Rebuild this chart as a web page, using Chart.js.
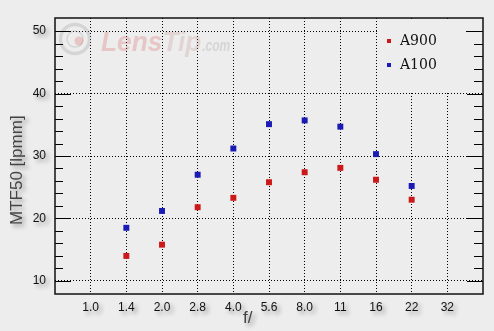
<!DOCTYPE html>
<html><head><meta charset="utf-8">
<script src="https://cdn.jsdelivr.net/npm/chart.js@4"></script>
<style>html,body{margin:0;padding:0;background:#ededed;overflow:hidden}</style>
</head><body>
<canvas id="c" width="494" height="331"></canvas>
<script>
const categories = ['1.0','1.4','2.0','2.8','4.0','5.6','8.0','11','16','22','32'];
const seriesNames = ['A900','A100'];
const a900 = [null,14.0,15.8,21.8,23.3,25.8,27.4,28.1,26.2,23.0,null];
const a100 = [null,18.5,21.2,27.0,31.2,35.1,35.7,34.7,30.3,25.2,null];
const yTicks = [10,20,30,40,50];
const yMinorTicks = [12,14,16,18,22,24,26,28,32,34,36,38,42,44,46,48];
const xTickValues = categories.map((c,i)=>i+1);

const BG = '#ededed';
const toPoints = arr => arr.map((v,i)=>({x:i+1,y:v})).filter(p=>p.y!==null);

function shadowWrap(scale){
  if(scale._shWrapped) return;
  scale._shWrapped = true;
  ['drawLabels','drawTitle'].forEach(fn=>{
    const orig = scale[fn];
    scale[fn] = function(){
      const ctx=this.ctx; ctx.save();
      ctx.shadowColor='rgba(0,0,0,0.38)'; ctx.shadowBlur=4; ctx.shadowOffsetX=3; ctx.shadowOffsetY=3;
      orig.apply(this, arguments);
      ctx.restore();
    };
  });
}

const decor = {
  id:'decor',
  beforeDraw(chart){
    const ctx=chart.ctx; ctx.save(); ctx.fillStyle=BG; ctx.fillRect(0,0,chart.width,chart.height); ctx.restore();
    Object.values(chart.scales).forEach(shadowWrap);
  },
  beforeDatasetsDraw(chart){
    const {ctx, chartArea:a, scales:{y}} = chart;
    ctx.save();
    // watermark
    const cx=a.left+20, cy=a.top+21;
    ctx.lineWidth=3.5; ctx.strokeStyle='rgba(160,160,160,0.3)';
    ctx.beginPath(); ctx.arc(cx,cy,14.5,0,Math.PI*2); ctx.stroke();
    ctx.lineWidth=1.5;
    ctx.beginPath(); ctx.arc(cx,cy,8,0,Math.PI*2); ctx.stroke();
    ctx.fillStyle='rgba(220,110,110,0.3)';
    ctx.beginPath(); ctx.arc(cx+4,cy+2,4.5,0,Math.PI*2); ctx.fill();
    ctx.textBaseline='alphabetic'; ctx.textAlign='left';
    ctx.translate(a.left+46, a.top+33);
    ctx.scale(0.94,1);
    let tx=0;
    ctx.font='italic bold 28px "Liberation Sans", Arial, sans-serif';
    ctx.fillStyle='rgba(220,110,110,0.3)'; ctx.fillText('Lens',tx,0); tx+=ctx.measureText('Lens').width;
    ctx.fillStyle='rgba(200,140,140,0.25)'; ctx.fillText('Tip',tx,0); tx+=ctx.measureText('Tip').width;
    ctx.scale(0.8,1); tx/=0.8;
    ctx.font='italic bold 16px "Liberation Sans", Arial, sans-serif';
    ctx.fillStyle='rgba(150,150,150,0.28)'; ctx.fillText('.com',tx+1,0);
    ctx.setTransform(1,0,0,1,0,0);
    // legend cover
    ctx.fillStyle=BG;
    const ly1 = Math.round(y.getPixelForValue(40))-1;
    ctx.fillRect(a.right-106, a.top+1, 89, ly1-a.top-1);
    // tick marks
    ctx.strokeStyle='#000'; ctx.lineWidth=1;
    ctx.beginPath();
    yTicks.forEach(v=>{const py=Math.round(y.getPixelForValue(v))+0.5;
      ctx.moveTo(a.left,py); ctx.lineTo(a.left+16,py); ctx.moveTo(a.right-16,py); ctx.lineTo(a.right,py);});
    yMinorTicks.forEach(v=>{const py=Math.round(y.getPixelForValue(v))+0.5;
      ctx.moveTo(a.left,py); ctx.lineTo(a.left+8,py); ctx.moveTo(a.right-9,py); ctx.lineTo(a.right,py);});
    ctx.stroke();
    // frame
    ctx.lineWidth=1.5; ctx.strokeStyle='#111';
    ctx.strokeRect(Math.round(a.left), Math.round(a.top), Math.round(a.right-a.left), Math.round(a.bottom-a.top));
    ctx.restore();
  },
  afterDatasetsDraw(chart){
    const {ctx, chartArea:a} = chart;
    ctx.save();
    ctx.font='14px "DejaVu Serif", serif'; ctx.textBaseline='middle'; ctx.textAlign='left';
    chart.data.datasets.forEach((ds,i)=>{
      const yy = a.top+23+i*24, xx = a.right-94;
      ctx.fillStyle=ds.backgroundColor; ctx.fillRect(xx-2,yy-2,4,4);
      ctx.fillStyle='#111'; ctx.fillText(ds.label, xx+11, yy);
    });
    ctx.restore();
  }
};

new Chart(document.getElementById('c'), {
  type:'scatter',
  data:{datasets:[
    {label:seriesNames[0], data:toPoints(a900), backgroundColor:'#cc1818', borderWidth:0, pointStyle:'rect', pointRadius:4.2, pointHoverRadius:4.2},
    {label:seriesNames[1], data:toPoints(a100), backgroundColor:'#1a1ab4', borderWidth:0, pointStyle:'rect', pointRadius:4.2, pointHoverRadius:4.2}
  ]},
  options:{
    responsive:false, animation:false, devicePixelRatio:1,
    layout:{padding:{top:18,right:11,left:0,bottom:0}},
    plugins:{legend:{display:false}, tooltip:{enabled:false}},
    scales:{
      x:{type:'linear', min:0, max:categories.length+1,
        afterBuildTicks:s=>{s.ticks = xTickValues.map(v=>({value:v}));},
        afterFit:s=>{s.height=37;},
        border:{display:false, dash:[1,2]},
        grid:{color:'#000', lineWidth:1, drawTicks:false},
        ticks:{padding:6, color:'#111', font:{family:'"Liberation Sans", Arial, sans-serif', size:12},
          callback:(v)=>categories[v-1] ?? ''},
        title:{display:true, text:'f/' + ' '.repeat(9), color:'#444', padding:{top:0,bottom:2},
          font:{family:'"Liberation Sans", Arial, sans-serif', size:17}}
      },
      y:{min:7.9, max:52.1,
        afterBuildTicks:s=>{s.ticks = yTicks.map(v=>({value:v}));},
        afterFit:s=>{s.width=55;},
        border:{display:false, dash:[1,2]},
        grid:{color:'#000', lineWidth:1, drawTicks:false},
        ticks:{padding:9, color:'#111', font:{family:'"Liberation Sans", Arial, sans-serif', size:12}},
        title:{display:true, text:'MTF50 [lpmm]' + ' '.repeat(6), color:'#444', padding:{top:7,bottom:0},
          font:{family:'"Liberation Sans", Arial, sans-serif', size:17}}
      }
    }
  },
  plugins:[decor]
});
</script>
</body></html>
